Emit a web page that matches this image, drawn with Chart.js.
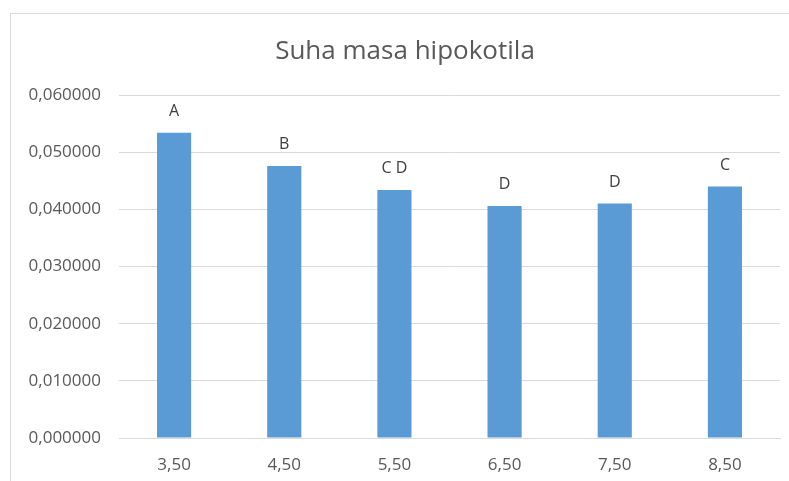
<!DOCTYPE html>
<html>
<head>
<meta charset="utf-8">
<script src="https://cdn.jsdelivr.net/npm/chart.js@4"></script>
<style>
  html, body { margin: 0; padding: 0; background: #fff; overflow: hidden; }
  #wrap { position: relative; width: 789px; height: 481px; overflow: hidden; }
  #frame { position: absolute; left: 10px; top: 13px; width: 820px; height: 520px; border: 1px solid #d9d9d9; }
  #chart { position: absolute; left: 0; top: 0; }
</style>
</head>
<body>
<div id="wrap">
  <div id="frame"></div>
  <canvas id="chart" width="789" height="481"></canvas>
</div>
<script>
const chartTitle = 'Suha masa hipokotila';
const categories = ['3,50', '4,50', '5,50', '6,50', '7,50', '8,50'];
const values = [0.0534, 0.0476, 0.0434, 0.0406, 0.0410, 0.0440];
const letters = ['A', 'B', 'C D', 'D', 'D', 'C'];
const yTicks = [0, 0.01, 0.02, 0.03, 0.04, 0.05, 0.06];

const fontFamily = '"Open Sans", "Liberation Sans", sans-serif';

// letters above bars
const letterPlugin = {
    id: 'letters',
    afterDatasetsDraw(chart){
        const ctx = chart.ctx;
        const meta = chart.getDatasetMeta(0);
        ctx.save();
        ctx.fillStyle = '#404040';
        ctx.font = '16px ' + fontFamily;
        ctx.textAlign = 'center';
        ctx.textBaseline = 'middle';
        meta.data.forEach((bar, i) => {
            ctx.fillText(letters[i], bar.x, bar.y - 21);
        });
        ctx.restore();
    }
};

// title centred on the outer frame, not on the plot
const titlePlugin = {
    id: 'frameTitle',
    afterDraw(chart){
        const ctx = chart.ctx;
        ctx.save();
        ctx.fillStyle = '#595959';
        ctx.font = '26px ' + fontFamily;
        ctx.textAlign = 'center';
        ctx.textBaseline = 'middle';
        ctx.fillText(chartTitle, 405, 52);
        ctx.restore();
    }
};

function init(){
    const ctx = document.getElementById('chart').getContext('2d');
    new Chart(ctx, {
        type: 'bar',
        data: {
            labels: categories,
            datasets: [{
                data: values,
                backgroundColor: '#5b9bd5',
                borderWidth: 0,
                categoryPercentage: 1,
                barPercentage: 0.31
            }]
        },
        options: {
            responsive: false,
            animation: false,
            layout: { padding: { left: 0, right: 9, top: 95, bottom: 0 } },
            plugins: {
                legend: { display: false },
                tooltip: { enabled: false },
                title: { display: false }
            },
            scales: {
                x: {
                    afterFit: scale => { scale.height = 43; },
                    grid: { display: false, drawTicks: false },
                    border: { color: '#d9d9d9' },
                    ticks: {
                        color: '#595959',
                        font: { family: fontFamily, size: 17 },
                        padding: 17
                    }
                },
                y: {
                    min: 0,
                    max: 0.06,
                    afterBuildTicks: scale => { scale.ticks = yTicks.map(v => ({value: v})); },
                    afterFit: scale => { scale.width = 119; },
                    grid: { color: '#d9d9d9', drawTicks: false },
                    border: { display: false },
                    ticks: {
                        color: '#595959',
                        font: { family: fontFamily, size: 17 },
                        padding: 18,
                        callback: v => v.toFixed(6).replace('.', ',')
                    }
                }
            }
        },
        plugins: [letterPlugin, titlePlugin]
    });
}
init();
</script>
</body>
</html>
